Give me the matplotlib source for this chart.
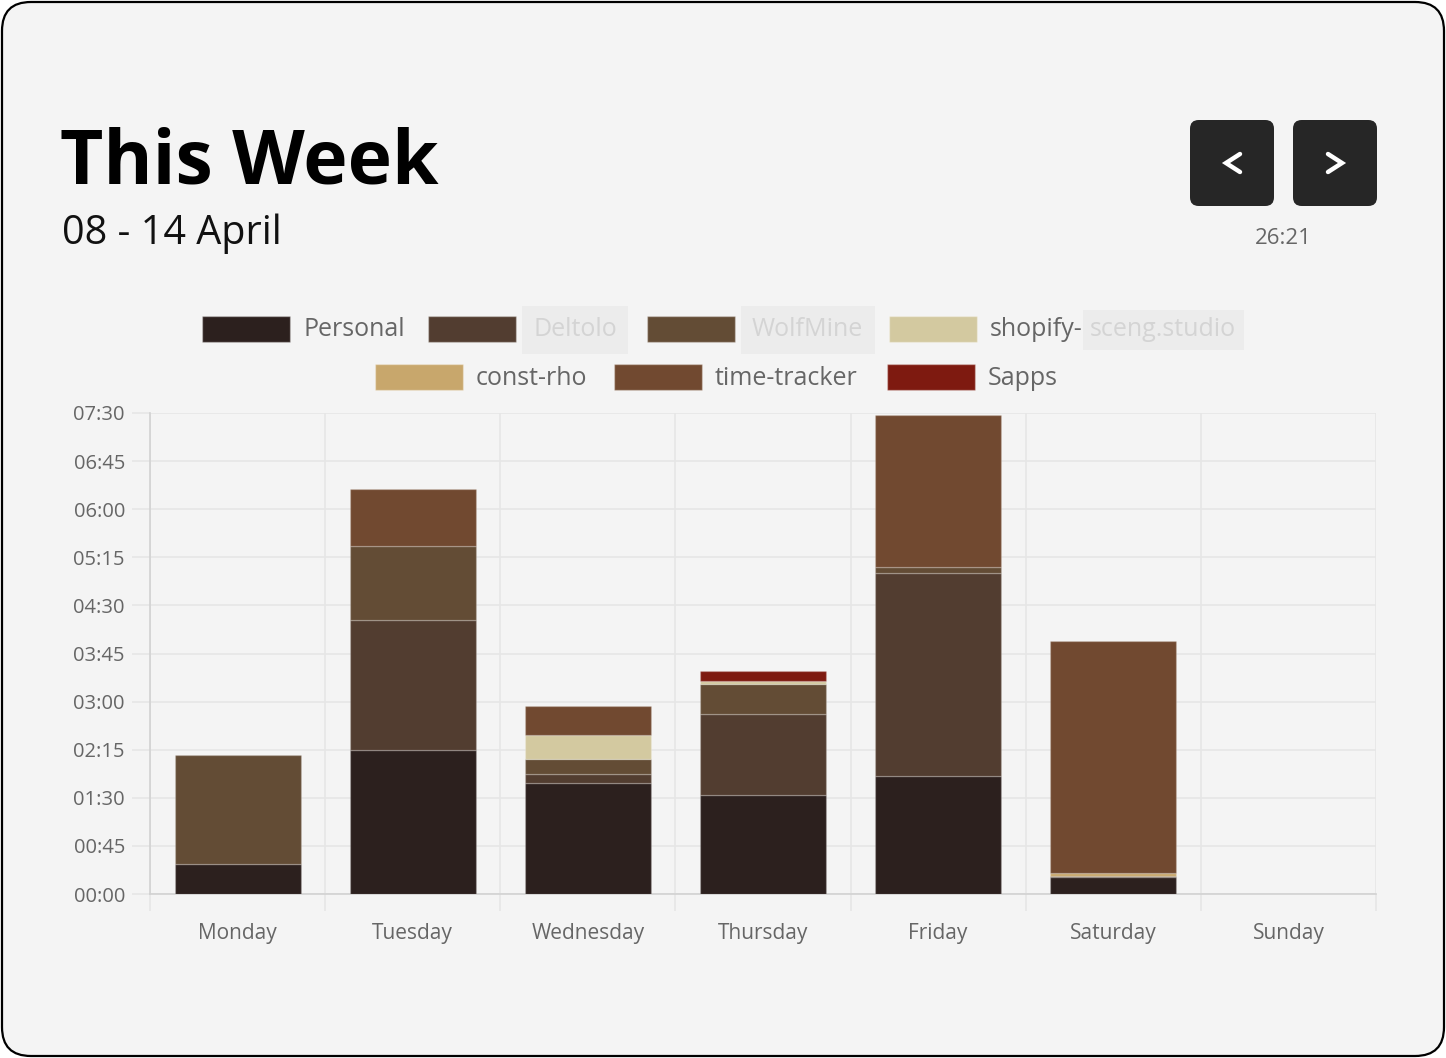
import matplotlib
matplotlib.use("Agg")
import matplotlib.pyplot as plt
from matplotlib.patches import FancyBboxPatch, Rectangle
from matplotlib.lines import Line2D
from matplotlib.ticker import FuncFormatter, MultipleLocator, FixedLocator

# minutes tracked per day, stacked in this order
days = ['Monday', 'Tuesday', 'Wednesday', 'Thursday', 'Friday', 'Saturday', 'Sunday']
personal = [28, 135, 104, 93, 110, 16, 0]
deltolo = [0, 121, 8, 75, 190, 1, 0]
wolfmine = [102, 70, 14, 28, 6, 0, 0]
shopify = [0, 0, 23, 3, 0, 0, 0]
const_rho = [0, 0, 0, 0, 0, 3, 0]
time_tracker = [0, 53, 27, 0, 142, 217, 0]
sapps = [0, 0, 0, 10, 0, 0, 0]

series = [
    ('Personal', personal, '#2c201e'),
    ('Deltolo', deltolo, '#523d30'),
    ('WolfMine', wolfmine, '#634c35'),
    ('shopify-sceng.studio', shopify, '#d3c9a0'),
    ('const-rho', const_rho, '#c8a76c'),
    ('time-tracker', time_tracker, '#714930'),
    ('Sapps', sapps, '#7e1a10'),
]

FONT = ['Open Sans', 'DejaVu Sans']
W, H = 1446, 1058
plt.rcParams['font.family'] = FONT

fig = plt.figure(figsize=(W / 100, H / 100), dpi=100)
fig.patch.set_facecolor('white')


def fx(x):
    return x / W


def fy(y):
    return 1 - y / H


# card background
card = FancyBboxPatch((fx(2), fy(1056)), fx(1442), 1054 / H,
                      boxstyle='round,pad=0,rounding_size=0.02',
                      transform=fig.transFigure, facecolor='#f4f4f4',
                      edgecolor='black', linewidth=1.6, mutation_aspect=W / H,
                      zorder=-10)
fig.patches.append(card)

# header
fig.text(fx(60), fy(183), 'This Week', fontsize=54, fontweight='bold',
         color='black', va='baseline')
fig.text(fx(62), fy(244), '08 - 14 April', fontsize=28.5, color='#111111',
         va='baseline')

# nav buttons
for x0 in (1190, 1293):
    btn = FancyBboxPatch((fx(x0), fy(206)), fx(84), 86 / H,
                         boxstyle='round,pad=0,rounding_size=0.006',
                         transform=fig.transFigure, facecolor='#262626',
                         edgecolor='none', mutation_aspect=W / H)
    fig.patches.append(btn)
fig.lines.append(Line2D([fx(1240), fx(1226), fx(1240)], [fy(154), fy(163), fy(172)],
                        transform=fig.transFigure, color='white', lw=3.2,
                        solid_capstyle='round', solid_joinstyle='miter'))
fig.lines.append(Line2D([fx(1328), fx(1342), fx(1328)], [fy(154), fy(163), fy(172)],
                        transform=fig.transFigure, color='white', lw=3.2,
                        solid_capstyle='round', solid_joinstyle='miter'))
fig.text(fx(1283), fy(238), '26:21', fontsize=16, color='#666666',
         ha='center', va='center')

# legend, drawn by hand in two centred rows
legend_pos = [(202, 329), (428, 329), (647, 329), (889, 329),
              (375, 377), (614, 377), (887, 377)]
LFS = 18
for (name, vals, color), (lx, ly) in zip(series, legend_pos):
    fig.patches.append(Rectangle((fx(lx), fy(ly + 13)), fx(88), 26 / H,
                                 transform=fig.transFigure, facecolor=color,
                                 edgecolor='#ffffff55', lw=1))
    tx = lx + 101
    if name in ('Deltolo', 'WolfMine'):
        fig.text(fx(tx + 4), fy(ly + 1), name, fontsize=LFS, color='#d4d4d4',
                 va='center',
                 bbox=dict(boxstyle='square,pad=0.45', fc='#ececec', ec='none'))
    elif name.startswith('shopify'):
        fig.text(fx(tx), fy(ly + 1), 'shopify-', fontsize=LFS, color='#666666',
                 va='center')
        fig.text(fx(tx + 100), fy(ly + 1), 'sceng.studio', fontsize=LFS, color='#d4d4d4',
                 va='center',
                 bbox=dict(boxstyle='square,pad=0.3', fc='#ececec', ec='none'))
    else:
        fig.text(fx(tx), fy(ly + 1), name, fontsize=LFS, color='#666666', va='center')

# chart
ax = fig.add_axes([fx(150), 1 - 894 / H, 1226 / W, 481 / H])
ax.set_facecolor('none')
ax.set_zorder(2)

x = list(range(len(days)))
bottom = [0] * len(days)
for name, vals, color in series:
    lws = [1 if v > 0 else 0 for v in vals]
    ax.bar(x, vals, bottom=bottom, width=0.72, color=color,
           edgecolor='#ffffff30', linewidth=lws, zorder=3)
    bottom = [b + v for b, v in zip(bottom, vals)]

ax.set_xlim(-0.5, 6.5)
ax.set_ylim(0, 450)
ax.yaxis.set_major_locator(MultipleLocator(45))
ax.yaxis.set_major_formatter(FuncFormatter(lambda v, p: '%02d:%02d' % (v // 60, v % 60)))
ax.set_xticks(x)
ax.set_xticklabels(days)
ax.xaxis.set_minor_locator(FixedLocator([i - 0.5 for i in range(8)]))

ax.grid(axis='y', which='major', color='#e6e6e6', lw=1.2, zorder=0)
ax.grid(axis='x', which='minor', color='#e6e6e6', lw=1.2, zorder=0)
ax.tick_params(axis='y', length=13, width=1.2, color='#e6e6e6', pad=5,
               labelsize=14.5, labelcolor='#666666')
ax.tick_params(axis='x', which='major', length=0, pad=21,
               labelsize=15, labelcolor='#666666')
ax.tick_params(axis='x', which='minor', length=12, width=1.2, color='#e6e6e6')

for side in ('top', 'right'):
    ax.spines[side].set_visible(False)
ax.spines['left'].set_color('#d2d2d2')
ax.spines['bottom'].set_color('#d2d2d2')
ax.spines['left'].set_linewidth(1.2)
ax.spines['bottom'].set_linewidth(1.2)

fig.savefig('out.png', dpi=100, facecolor=fig.get_facecolor())
